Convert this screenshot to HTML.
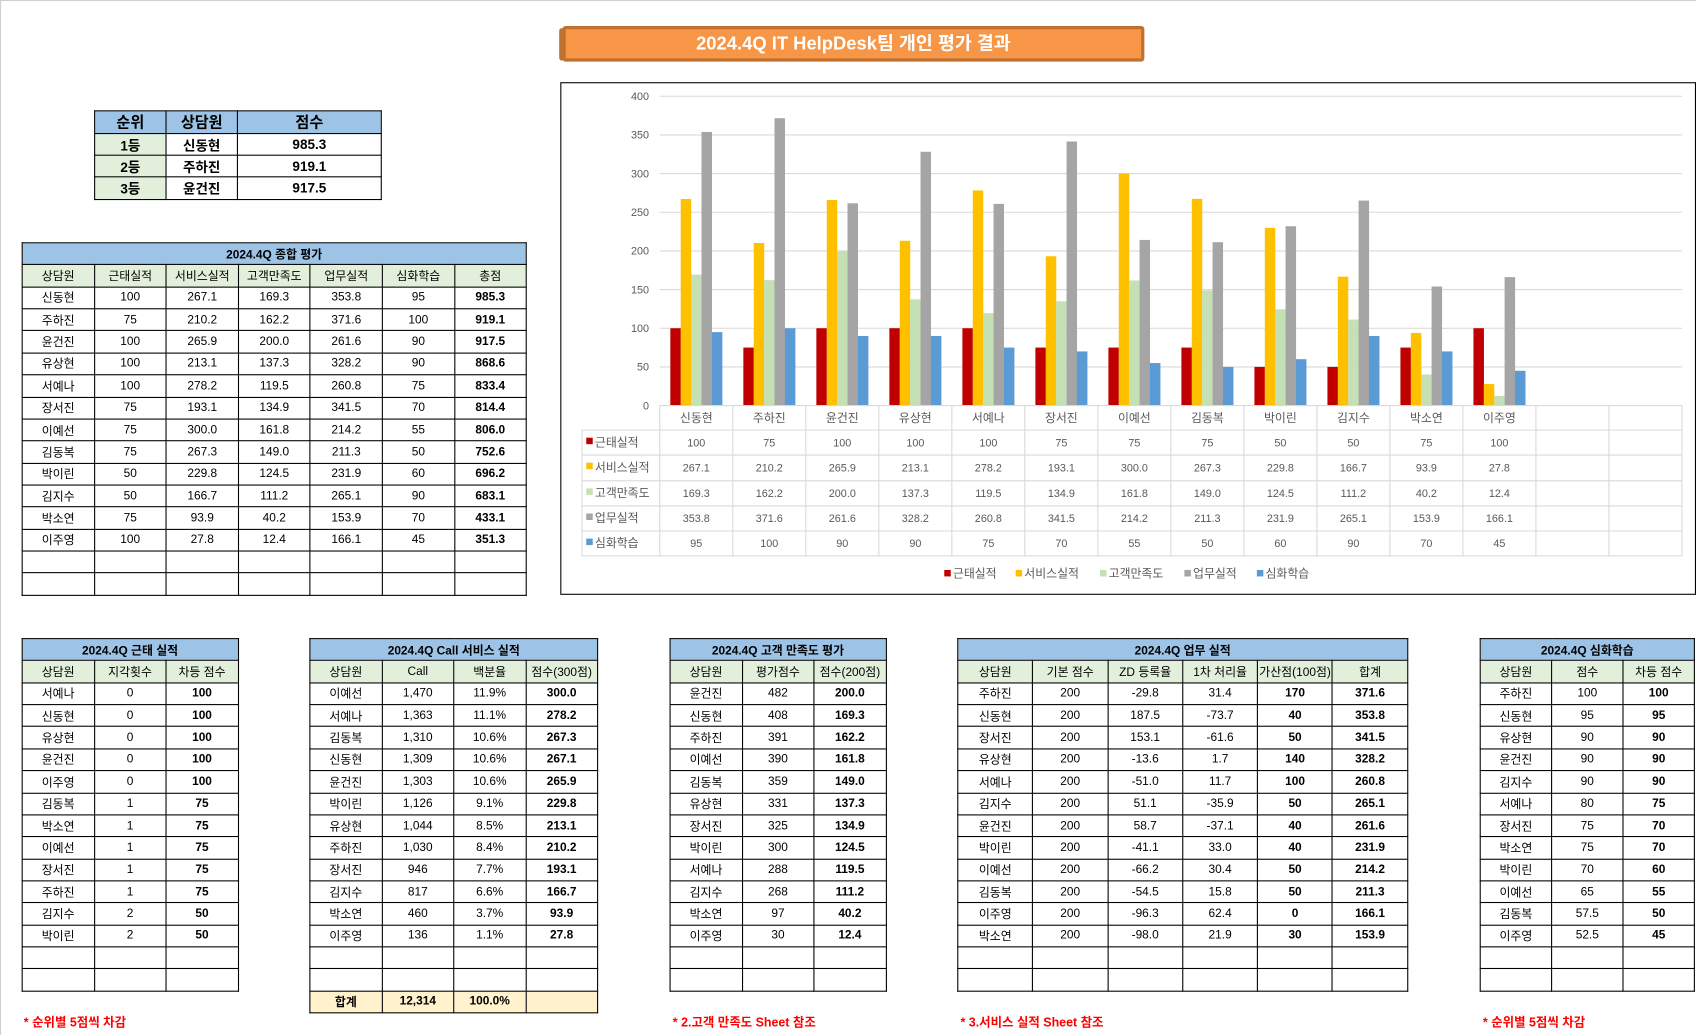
<!DOCTYPE html>
<html><head><meta charset="utf-8">
<style>
html,body{margin:0;padding:0;background:#fff;}
body{width:1696px;height:1035px;overflow:hidden;position:relative;font-family:"Liberation Sans","Noto Sans CJK KR","NanumGothic",sans-serif;}
#w{position:absolute;left:0;top:0;width:1568px;height:957px;transform:scale(1.08163,1.08150);transform-origin:0 0;}
.t{position:absolute;border-collapse:collapse;table-layout:fixed;font-size:11px;color:#000;}
.t td{border:0.93px solid #000;text-align:center;padding:0;white-space:nowrap;overflow:hidden;}
.hb{background:#9DC3E6;font-weight:bold;}
.hg{background:#E2EFDA;}
.tot{background:#FFF2CC;font-weight:bold;}
.fn{position:absolute;color:#FF0000;font-weight:bold;font-size:11.5px;}
</style></head><body>
<div id="w">
<div style="position:absolute;left:0;top:0;width:1568px;height:1px;background:#d0d0d0"></div>
<div style="position:absolute;left:0;top:0;width:1px;height:957px;background:#d0d0d0"></div>
<div style="position:absolute;left:520px;top:24px;width:532px;height:27px;background:#F79646;border:3px solid #C0702F;border-radius:3px;color:#fff;font-weight:bold;font-size:17px;line-height:27px;text-align:center;">2024.4Q IT HelpDesk팀 개인 평가 결과</div>
<div style="position:absolute;left:517px;top:26px;width:5px;height:30px;background:#C0702F;border-radius:3px"></div>
<div style="position:absolute;left:518px;top:76px;width:1048px;height:472px;border:1px solid #000;"></div>
<svg id="ch" style="position:absolute;left:0;top:0" width="1568" height="957"></svg>
<div id="tb"></div>
<div class="fn" style="left:22px;top:937px">* 순위별 5점씩 차감</div>
<div class="fn" style="left:622px;top:937px">* 2.고객 만족도 Sheet 참조</div>
<div class="fn" style="left:888px;top:937px">* 3.서비스 실적 Sheet 참조</div>
<div class="fn" style="left:1371px;top:937px">* 순위별 5점씩 차감</div>
</div>
<script>
var N=["신동현","주하진","윤건진","유상현","서예나","장서진","이예선","김동복","박이린","김지수","박소연","이주영"];
var S=[[100,75,100,100,100,75,75,75,50,50,75,100],
[267.1,210.2,265.9,213.1,278.2,193.1,300.0,267.3,229.8,166.7,93.9,27.8],
[169.3,162.2,200.0,137.3,119.5,134.9,161.8,149.0,124.5,111.2,40.2,12.4],
[353.8,371.6,261.6,328.2,260.8,341.5,214.2,211.3,231.9,265.1,153.9,166.1],
[95,100,90,90,75,70,55,50,60,90,70,45]];
var TOT=["985.3","919.1","917.5","868.6","833.4","814.4","806.0","752.6","696.2","683.1","433.1","351.3"];
var SN=["근태실적","서비스실적","고객만족도","업무실적","심화학습"];
var C=["#C00000","#FFC000","#C5E0B4","#A5A5A5","#5B9BD5"];
var s="",x0=610,cw=67.5,y0=375,k=0.715;
for(var v=0;v<=400;v+=50){var y=y0-v*k;
 if(v>0)s+='<line x1="'+x0+'" x2="1555" y1="'+y+'" y2="'+y+'" stroke="#d9d9d9"/>';
 s+='<text x="600" y="'+(y+3.5)+'" font-size="10" fill="#595959" text-anchor="end">'+v+'</text>';}
for(var i=0;i<12;i++){var cx=x0+cw*(i+0.5);
 for(var j=0;j<5;j++){var h=S[j][i]*k;s+='<rect x="'+(cx-24+j*9.6)+'" y="'+(y0-h)+'" width="9.7" height="'+h+'" fill="'+C[j]+'"/>';}}
var rl=[375,397.7,420.8,444.6,467.8,491,514];
for(var r=0;r<rl.length;r++){s+='<line x1="'+(r==0?x0:538)+'" x2="1555" y1="'+rl[r]+'" y2="'+rl[r]+'" stroke="#d9d9d9"/>';}
s+='<line x1="538" x2="538" y1="397.7" y2="514" stroke="#d9d9d9"/>';
for(var i=0;i<=14;i++){var x=x0+cw*i;s+='<line x1="'+x+'" x2="'+x+'" y1="375" y2="514" stroke="#d9d9d9"/>';}
for(var i=0;i<12;i++){var cx=x0+cw*(i+0.5);
 s+='<text x="'+cx+'" y="390" font-size="11" fill="#595959" text-anchor="middle">'+N[i]+'</text>';
 for(var j=0;j<5;j++){var val=S[j][i];var t=(j==0||j==4)?String(val):val.toFixed(1);
  s+='<text x="'+cx+'" y="'+(rl[j+1]+15)+'" font-size="10" fill="#595959" text-anchor="middle">'+t+'</text>';}}
for(var j=0;j<5;j++){s+='<rect x="542" y="'+(rl[j+1]+7)+'" width="6" height="6" fill="'+C[j]+'"/><text x="550" y="'+(rl[j+1]+15)+'" font-size="11" fill="#595959">'+SN[j]+'</text>';}
var lx=[873,939,1017,1095,1162];
for(var j=0;j<5;j++){s+='<rect x="'+lx[j]+'" y="527" width="6" height="6" fill="'+C[j]+'"/><text x="'+(lx[j]+8)+'" y="534" font-size="11" fill="#595959">'+SN[j]+'</text>';}
document.getElementById("ch").innerHTML=s;

function T(x,y,cols,title,hdr,rows,bold,rh,extra,opt){
 opt=opt||{};var w=cols.reduce(function(a,b){return a+b},0);
 var h='<table class="t" style="left:'+x+'px;top:'+y+'px;width:'+w+'px;'+(opt.fs?'font-size:'+opt.fs+'px;':'')+'"><colgroup>';
 cols.forEach(function(c){h+='<col style="width:'+c+'px">'});h+='</colgroup>';
 if(title)h+='<tr style="height:'+rh+'px"><td class="hb" colspan="'+cols.length+'">'+title+'</td></tr>';
 if(hdr){h+='<tr style="height:'+rh+'px">';hdr.forEach(function(c){h+='<td class="'+(opt.hc||'hg')+'">'+c+'</td>'});h+='</tr>';}
 rows.forEach(function(r){h+='<tr style="height:'+rh+'px">';r.forEach(function(c,ci){
  var b=bold.indexOf(ci)>=0,g=opt.gc&&ci==0;
  h+='<td style="'+(b?'font-weight:bold;':'')+(g?'background:#E2EFDA;':'')+'">'+c+'</td>'});h+='</tr>';});
 if(extra){h+='<tr style="height:'+rh+'px">';extra.forEach(function(c){h+='<td class="tot">'+c+'</td>'});h+='</tr>';}
 return h+'</table>';}
var E=function(n){var a=[];for(var i=0;i<n;i++)a.push('');return a;};
var H="";
H+=T(87,102,[66,66,133],null,["순위","상담원","점수"],[["1등","신동현","985.3"],["2등","주하진","919.1"],["3등","윤건진","917.5"]],[0,1,2],20.2,null,{fs:12.5,hc:'hb" style="font-weight:bold;font-size:14px',gc:1});
var R=[];for(var i=0;i<12;i++)R.push([N[i],S[0][i],S[1][i].toFixed(1),S[2][i].toFixed(1),S[3][i].toFixed(1),S[4][i],TOT[i]]);
R.push(E(7));R.push(E(7));
H+=T(20,224,[66.6,66.6,66.6,66.6,66.6,66.6,66.4],"2024.4Q 종합 평가",["상담원","근태실적","서비스실적","고객만족도","업무실적","심화학습","총점"],R,[6],20.36);
var A=[["서예나",0,100],["신동현",0,100],["유상현",0,100],["윤건진",0,100],["이주영",0,100],["김동복",1,75],["박소연",1,75],["이예선",1,75],["장서진",1,75],["주하진",1,75],["김지수",2,50],["박이린",2,50]];
A.push(E(3));A.push(E(3));
H+=T(20,590,[66.5,66.5,66.5],"2024.4Q 근태 실적",["상담원","지각횟수","차등 점수"],A,[2],20.36);
var B=[["이예선","1,470","11.9%","300.0"],["서예나","1,363","11.1%","278.2"],["김동복","1,310","10.6%","267.3"],["신동현","1,309","10.6%","267.1"],["윤건진","1,303","10.6%","265.9"],["박이린","1,126","9.1%","229.8"],["유상현","1,044","8.5%","213.1"],["주하진","1,030","8.4%","210.2"],["장서진","946","7.7%","193.1"],["김지수","817","6.6%","166.7"],["박소연","460","3.7%","93.9"],["이주영","136","1.1%","27.8"]];
B.push(E(4));B.push(E(4));
H+=T(286,590,[66.5,66.5,66.5,66.5],"2024.4Q Call 서비스 실적",["상담원","Call","백분율","점수(300점)"],B,[3],20.36,["합계","12,314","100.0%",""]);
var G=[["윤건진",482,"200.0"],["신동현",408,"169.3"],["주하진",391,"162.2"],["이예선",390,"161.8"],["김동복",359,"149.0"],["유상현",331,"137.3"],["장서진",325,"134.9"],["박이린",300,"124.5"],["서예나",288,"119.5"],["김지수",268,"111.2"],["박소연",97,"40.2"],["이주영",30,"12.4"]];
G.push(E(3));G.push(E(3));
H+=T(619,590,[66.5,66.5,66.5],"2024.4Q 고객 만족도 평가",["상담원","평가점수","점수(200점)"],G,[2],20.36);
var U=[["주하진",200,"-29.8","31.4",170,"371.6"],["신동현",200,"187.5","-73.7",40,"353.8"],["장서진",200,"153.1","-61.6",50,"341.5"],["유상현",200,"-13.6","1.7",140,"328.2"],["서예나",200,"-51.0","11.7",100,"260.8"],["김지수",200,"51.1","-35.9",50,"265.1"],["윤건진",200,"58.7","-37.1",40,"261.6"],["박이린",200,"-41.1","33.0",40,"231.9"],["이예선",200,"-66.2","30.4",50,"214.2"],["김동복",200,"-54.5","15.8",50,"211.3"],["이주영",200,"-96.3","62.4",0,"166.1"],["박소연",200,"-98.0","21.9",30,"153.9"]];
U.push(E(6));U.push(E(6));
H+=T(885,590,[69.3,69.3,69.3,69.3,69.3,69.3],"2024.4Q 업무 실적",["상담원","기본 점수","ZD 등록율","1차 처리율","가산점(100점)","합계"],U,[4,5],20.36);
var D=[["주하진",100,100],["신동현",95,95],["유상현",90,90],["윤건진",90,90],["김지수",90,90],["서예나",80,75],["장서진",75,70],["박소연",75,70],["박이린",70,60],["이예선",65,55],["김동복","57.5",50],["이주영","52.5",45]];
D.push(E(3));D.push(E(3));
H+=T(1368,590,[66,66,66],"2024.4Q 심화학습",["상담원","점수","차등 점수"],D,[2],20.36);
document.getElementById("tb").innerHTML=H;
</script>
</body></html>
